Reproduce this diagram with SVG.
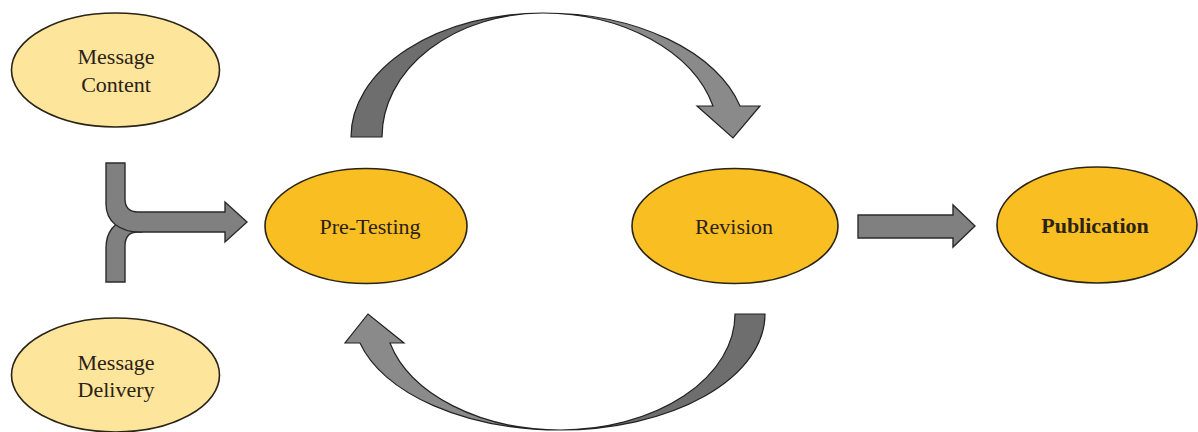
<svg xmlns="http://www.w3.org/2000/svg" width="1198" height="432" viewBox="0 0 1198 432">
<style>
.light{fill:#fde59c;stroke:#2a2418;stroke-width:1.6}
.gold{fill:#f9bf22;stroke:#2a2418;stroke-width:1.6}
.t{font-family:"Liberation Serif","Times New Roman",serif;font-size:22px;fill:#2a2117;text-anchor:middle}
.b{font-weight:bold}
.arr{fill:#808080;stroke:#2b2b2b;stroke-width:1.4;stroke-linejoin:miter}
.dk{fill:#6e6e6e;stroke:#222;stroke-width:1.2}
.lt{fill:#8a8a8a;stroke:#222;stroke-width:1.2}
</style>
<rect width="1198" height="432" fill="#ffffff"/>
<g id="node-message-content">
<ellipse class="light" cx="115.5" cy="70" rx="104" ry="57"/>
<text class="t" x="116" y="64">Message</text>
<text class="t" x="116" y="92">Content</text>
</g>
<g id="node-message-delivery">
<ellipse class="light" cx="115.5" cy="375" rx="104" ry="57"/>
<text class="t" x="116" y="370">Message</text>
<text class="t" x="116" y="397">Delivery</text>
</g>
<g id="node-pre-testing">
<ellipse class="gold" cx="366" cy="226" rx="101" ry="57.5"/>
<text class="t" x="370" y="234">Pre-Testing</text>
</g>
<g id="node-revision">
<ellipse class="gold" cx="735" cy="226" rx="103" ry="57.5"/>
<text class="t" x="734" y="234">Revision</text>
</g>
<g id="node-publication">
<ellipse class="gold" cx="1097" cy="225" rx="100" ry="58"/>
<text class="t b" x="1095" y="233">Publication</text>
</g>
<g id="connectors">
<path class="arr" d="M106,282 V248 C106,232 114,222 130,218 H142 V232 H138 Q125,232 125,246 V282 Z"/>
<path class="arr" d="M106,163 H125 V199 Q125,212 138,212 H225 V202 L247,222 L225,242 V232 H140 C120,232 106,222 106,204 Z"/>
<path class="arr" d="M858,215 H953 V205 L975,226 L953,247 V238 H858 Z"/>
<path class="dk" d="M351,137 A192,124 0 0 1 543,13 A161,124 0 0 0 382,137 Z"/>
<path class="lt" d="M543,13 A203,124 0 0 1 740,106 L760,106 L733,138 L697,106 L713,106 A176,124 0 0 0 543,13 Z"/>
<path class="dk" d="M735,314 H765 A205,116 0 0 1 560,430 A175,116 0 0 0 735,314 Z"/>
<path class="lt" d="M560,430 A207,116 0 0 1 360,343 L345,343 L368,314 L404,343 L390,343 A176,116 0 0 0 560,430 Z"/>
</g>
</svg>
